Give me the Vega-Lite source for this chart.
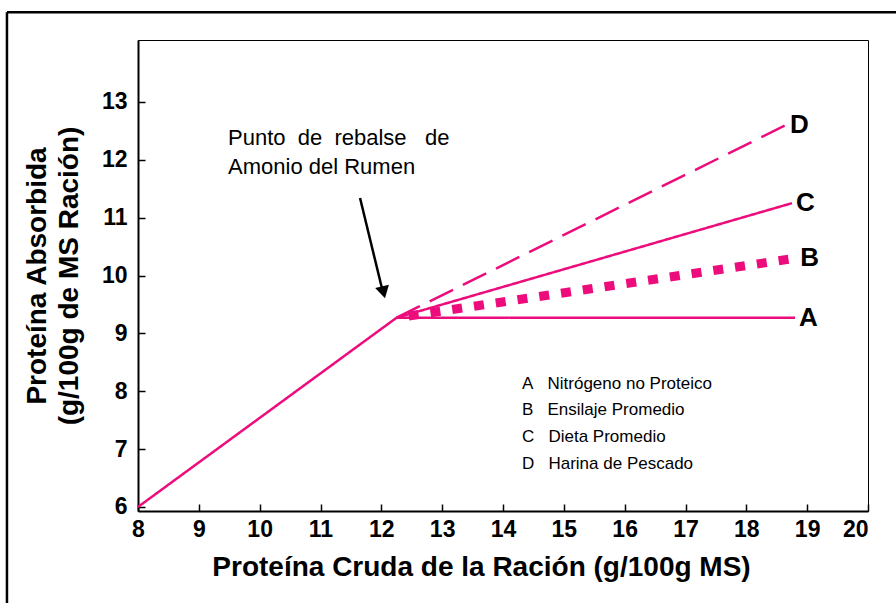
{
  "$schema": "https://vega.github.io/schema/vega-lite/v6.json",
  "width": 730,
  "height": 471,
  "autosize": {"type": "none"},
  "padding": {"left": 138, "top": 40, "right": 28, "bottom": 92},
  "background": "white",
  "config": {
    "view": {"stroke": "black", "strokeWidth": 1},
    "font": "Liberation Sans",
    "axis": {
      "grid": false,
      "domainColor": "black",
      "domainWidth": 2,
      "tickColor": "black",
      "tickSize": -7,
      "tickWidth": 1.5,
      "labelColor": "black",
      "titleColor": "black",
      "labelFont": "Liberation Sans",
      "labelFontWeight": "bold",
      "titleFont": "Liberation Sans",
      "titleFontWeight": "bold",
      "labelOverlap": false,
      "format": "d"
    }
  },
  "datasets": {
    "lineas": [
      {"serie": "base", "x": 8, "y": 6},
      {"serie": "base", "x": 12.25, "y": 9.27},
      {"serie": "A", "x": 12.25, "y": 9.27},
      {"serie": "A", "x": 18.8, "y": 9.27},
      {"serie": "B", "x": 12.45, "y": 9.3},
      {"serie": "B", "x": 18.82, "y": 10.3},
      {"serie": "C", "x": 12.25, "y": 9.27},
      {"serie": "C", "x": 18.75, "y": 11.25},
      {"serie": "D", "x": 12.25, "y": 9.27},
      {"serie": "D", "x": 18.65, "y": 12.6}
    ],
    "flecha": [{"x": 11.65, "y": 11.34, "x2": 12.01, "y2": 9.78}],
    "punta": [{"x": 12.036, "y": 9.71}],
    "nota": [{"x": 9.48, "y": 12.55, "texto": ["Punto\u00a0\u00a0de\u00a0\u00a0rebalse\u00a0\u00a0 de", "Amonio del Rumen"]}]
  },
  "layer": [
    {
      "data": {"values": [{}]},
      "mark": {"type": "rule", "color": "black", "strokeWidth": 2.5},
      "encoding": {
        "x": {"datum": 5.846, "type": "quantitative", "scale": {"domain": [8, 20], "nice": false, "zero": false}},
        "x2": {"datum": 21},
        "y": {"datum": 14.55, "type": "quantitative", "scale": {"domain": [5.93, 14.07], "nice": false, "zero": false}}
      }
    },
    {
      "data": {"values": [{}]},
      "mark": {"type": "rule", "color": "black", "strokeWidth": 2.5},
      "encoding": {
        "x": {"datum": 5.846, "type": "quantitative"},
        "y": {"datum": 14.55, "type": "quantitative"},
        "y2": {"datum": 4}
      }
    },
    {
      "data": {"name": "lineas"},
      "transform": [{"filter": "datum.serie != 'B'"}],
      "mark": {"type": "line", "color": "#ec0c7c", "strokeWidth": 2.5, "strokeCap": "butt"},
      "encoding": {
        "x": {
          "field": "x", "type": "quantitative",
          "scale": {"domain": [8, 20], "nice": false, "zero": false},
          "axis": {
            "values": [8, 9, 10, 11, 12, 13, 14, 15, 16, 17, 18, 19, 20],
            "labelFontSize": 23,
            "labelPadding": 14,
            "labelFlush": false,
            "labelAlign": {"condition": {"test": "datum.value == 20", "value": "right"}, "value": "center"},
            "title": "Proteína Cruda de la Ración (g/100g MS)",
            "titleFontSize": 28,
            "titlePadding": 12,
            "titleX": 343
          }
        },
        "y": {
          "field": "y", "type": "quantitative",
          "scale": {"domain": [5.93, 14.07], "nice": false, "zero": false},
          "axis": {
            "values": [6, 7, 8, 9, 10, 11, 12, 13],
            "labelFontSize": 23,
            "labelPadding": 18,
            "title": ["Proteína Absorbida", "(g/100g de MS Ración)"],
            "titleFontSize": 28,
            "titleLineHeight": 32,
            "titleX": -87
          }
        },
        "detail": {"field": "serie"},
        "strokeDash": {
          "field": "serie", "type": "nominal",
          "scale": {"domain": ["base", "A", "B", "C", "D"], "range": [[1, 0], [1, 0], [10, 12], [1, 0], [26, 11]]},
          "legend": {
            "orient": "none",
            "legendX": 367,
            "legendY": 335,
            "values": ["A", "B", "C", "D"],
            "title": null,
            "padding": 0,
            "symbolSize": 1,
            "symbolOpacity": 0,
            "symbolStrokeWidth": 0,
            "labelOffset": 0,
            "rowPadding": 8.7,
            "labelFont": "Liberation Sans",
            "labelFontSize": 17,
            "labelColor": "black",
            "labelLimit": 400,
            "labelExpr": "{'A': 'A\u00a0\u00a0\u00a0Nitrógeno no Proteico', 'B': 'B\u00a0\u00a0\u00a0Ensilaje Promedio', 'C': 'C\u00a0\u00a0\u00a0Dieta Promedio', 'D': 'D\u00a0\u00a0\u00a0Harina de Pescado'}[datum.label]"
          }
        }
      }
    },
    {
      "data": {"name": "lineas"},
      "transform": [{"filter": "datum.serie == 'B'"}],
      "mark": {"type": "line", "color": "#ec0c7c", "strokeWidth": 9, "strokeDash": [10, 12], "strokeCap": "butt"},
      "encoding": {
        "x": {"field": "x", "type": "quantitative"},
        "y": {"field": "y", "type": "quantitative"}
      }
    },
    {
      "data": {"name": "lineas"},
      "transform": [
        {"joinaggregate": [{"op": "max", "field": "x", "as": "xmax"}], "groupby": ["serie"]},
        {"filter": "datum.serie != 'base' && datum.x == datum.xmax"}
      ],
      "mark": {"type": "text", "align": "left", "baseline": "middle", "dx": 4, "fontSize": 26, "fontWeight": "bold", "font": "Liberation Sans", "color": "black"},
      "encoding": {
        "x": {"field": "x", "type": "quantitative"},
        "y": {"field": "y", "type": "quantitative"},
        "text": {"field": "serie"}
      }
    },
    {
      "data": {"name": "flecha"},
      "mark": {"type": "rule", "color": "black", "strokeWidth": 2.5},
      "encoding": {
        "x": {"field": "x", "type": "quantitative"},
        "y": {"field": "y", "type": "quantitative"},
        "x2": {"field": "x2"},
        "y2": {"field": "y2"}
      }
    },
    {
      "data": {"name": "punta"},
      "mark": {"type": "point", "shape": "triangle-down", "filled": true, "color": "black", "size": 200, "opacity": 1, "angle": 346},
      "encoding": {
        "x": {"field": "x", "type": "quantitative"},
        "y": {"field": "y", "type": "quantitative"}
      }
    },
    {
      "data": {"name": "nota"},
      "mark": {"type": "text", "align": "left", "baseline": "top", "fontSize": 22, "lineHeight": 29, "font": "Liberation Sans", "color": "black"},
      "encoding": {
        "x": {"field": "x", "type": "quantitative"},
        "y": {"field": "y", "type": "quantitative"},
        "text": {"field": "texto"}
      }
    }
  ]
}
